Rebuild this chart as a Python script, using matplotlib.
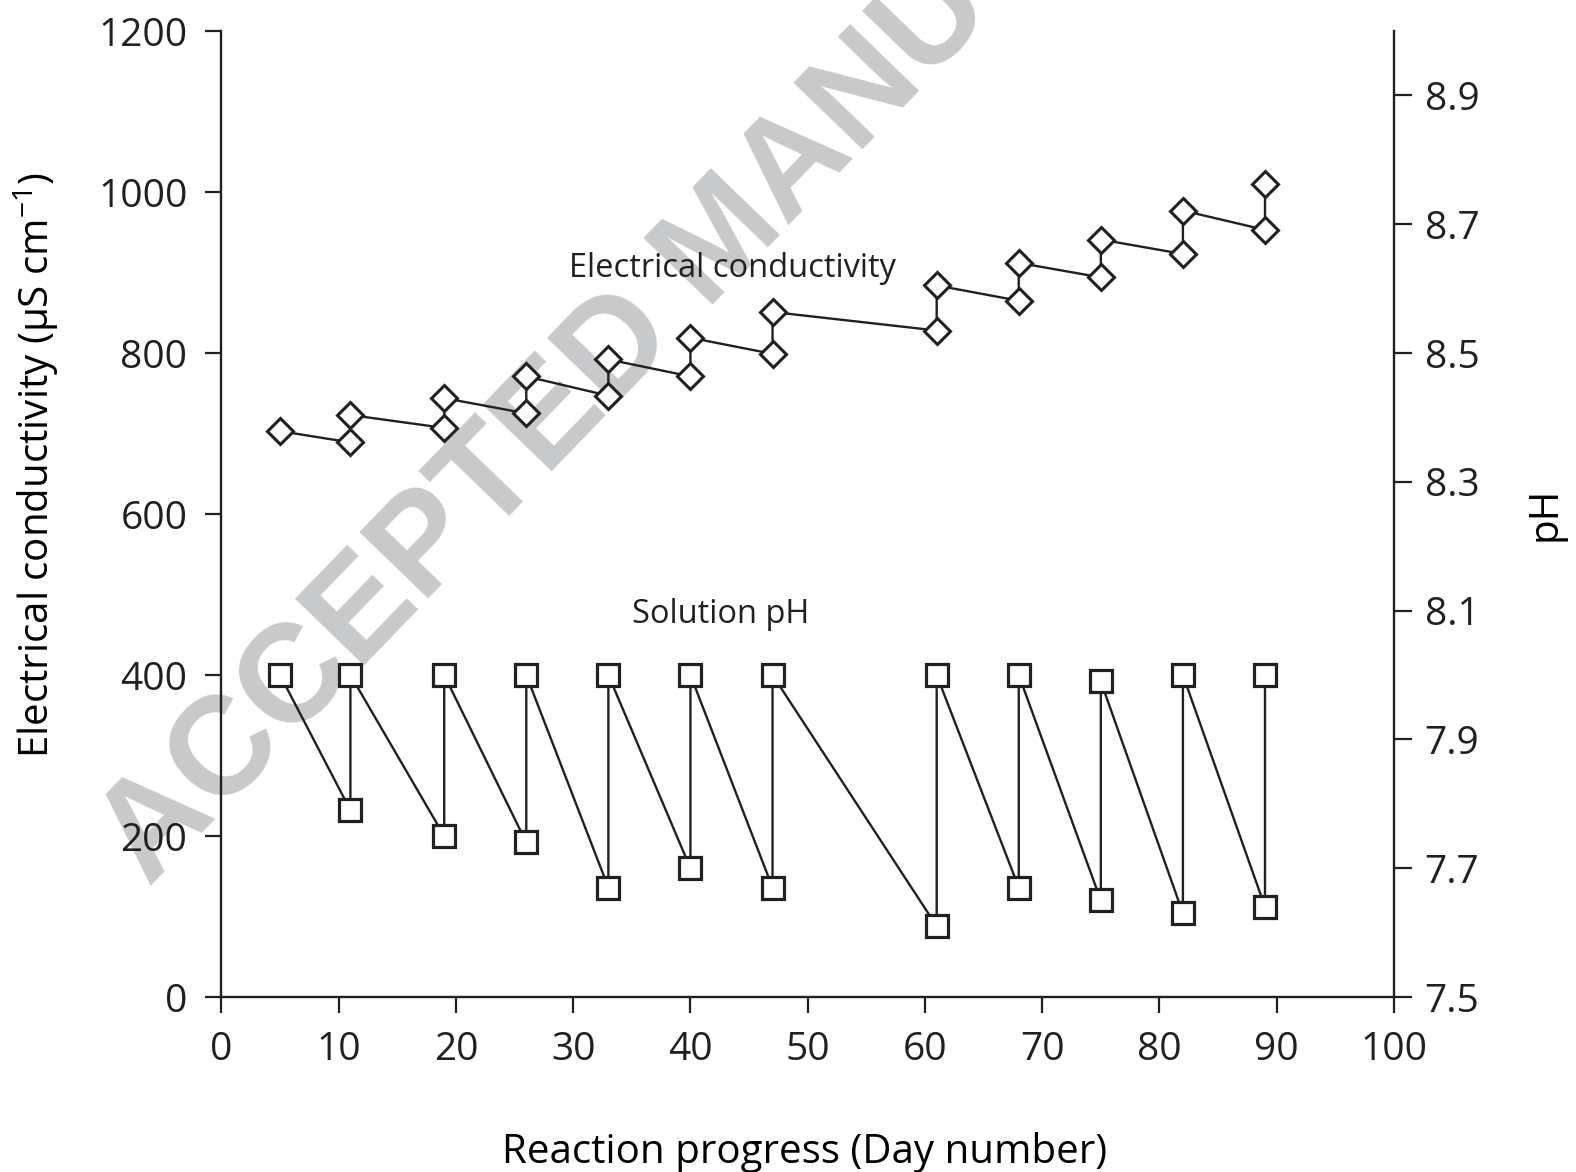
import matplotlib
matplotlib.use("Agg")
import matplotlib.pyplot as plt

# Reaction progress, one pair of readings per sampling day (before / after)
days = [5, 11, 11, 19, 19, 26, 26, 33, 33, 40, 40, 47, 47,
        61, 61, 68, 68, 75, 75, 82, 82, 89, 89]

# electrical conductivity, uS/cm
ec = [703, 689, 723, 707, 744, 725, 771, 747, 792, 771, 819, 799, 851,
      828, 884, 865, 912, 894, 941, 923, 977, 953, 1010]

# solution pH
ph = [8.00, 7.79, 8.00, 7.75, 8.00, 7.74, 8.00, 7.67, 8.00, 7.70, 8.00, 7.67, 8.00,
      7.61, 8.00, 7.67, 8.00, 7.65, 7.99, 7.63, 8.00, 7.64, 8.00]

x_ticks = [0, 10, 20, 30, 40, 50, 60, 70, 80, 90, 100]
ec_ticks = [0, 200, 400, 600, 800, 1000, 1200]
ph_ticks = [7.5, 7.7, 7.9, 8.1, 8.3, 8.5, 8.7, 8.9]

ink = '#231f20'
plt.rcParams['font.family'] = ['Open Sans', 'DejaVu Sans']
plt.rcParams['mathtext.fontset'] = 'custom'
plt.rcParams['mathtext.rm'] = 'Open Sans'
plt.rcParams['mathtext.it'] = 'Open Sans'
plt.rcParams['text.color'] = ink

fig = plt.figure(figsize=(15.76, 11.72), dpi=100)
ax = fig.add_axes([0.1405, 0.1493, 0.744, 0.8242])
ax2 = ax.twinx()
ax.patch.set_visible(False)
ax2.patch.set_visible(False)

# watermark sits behind everything
fig.text(0.095, 0.242, "ACCEPTED MANUSCRIPT", rotation=46, rotation_mode='anchor',
         ha='left', va='baseline', fontsize=100, fontweight='bold',
         family='Liberation Sans', color='#c8c9cb', zorder=-5)

ax.plot(days, ec, color=ink, lw=1.7, marker='D', ms=13.5, mfc='white',
        mec=ink, mew=2.2, clip_on=False, zorder=3)
ax2.plot(days, ph, color=ink, lw=1.7, marker='s', ms=16, mfc='white',
         mec=ink, mew=2.3, clip_on=False, zorder=3)

ax.set_xlim(0, 100)
ax.set_ylim(0, 1200)
ax2.set_ylim(7.5, 9.0)
ax.set_xticks(x_ticks)
ax.set_yticks(ec_ticks)
ax2.set_yticks(ph_ticks)
ax2.set_yticklabels([f"{v:.1f}" for v in ph_ticks])

for a in (ax, ax2):
    a.spines['top'].set_visible(False)
    for s in a.spines.values():
        s.set_linewidth(1.7)
        s.set_color(ink)
ax.spines['right'].set_visible(False)
ax2.spines['left'].set_visible(False)
ax2.spines['bottom'].set_visible(False)

ax.tick_params(axis='both', direction='out', length=11.5, width=1.6,
               color=ink, labelsize=28, labelcolor=ink)
ax.tick_params(axis='y', pad=13)
ax.tick_params(axis='x', pad=13)
ax2.tick_params(axis='y', direction='out', length=13, width=1.6,
                color=ink, labelsize=28, labelcolor=ink, pad=9)

ax.set_xlabel("Reaction progress (Day number)", fontsize=29)
ax.xaxis.set_label_coords(0.497, -0.14)
ax.set_ylabel(r"Electrical conductivity (µS cm$^{\mathregular{-1}}$)", fontsize=29)
ax.yaxis.set_label_coords(-0.137, 0.551)
ax2.set_ylabel("pH", fontsize=29)
ax2.yaxis.set_label_coords(1.112, 0.5)

ax.text(43.6, 894, "Electrical conductivity", fontsize=23.5, ha='center', va='baseline')
ax.text(42.6, 465, "Solution pH", fontsize=23.5, ha='center', va='baseline')

fig.savefig("out.png", dpi=100)
